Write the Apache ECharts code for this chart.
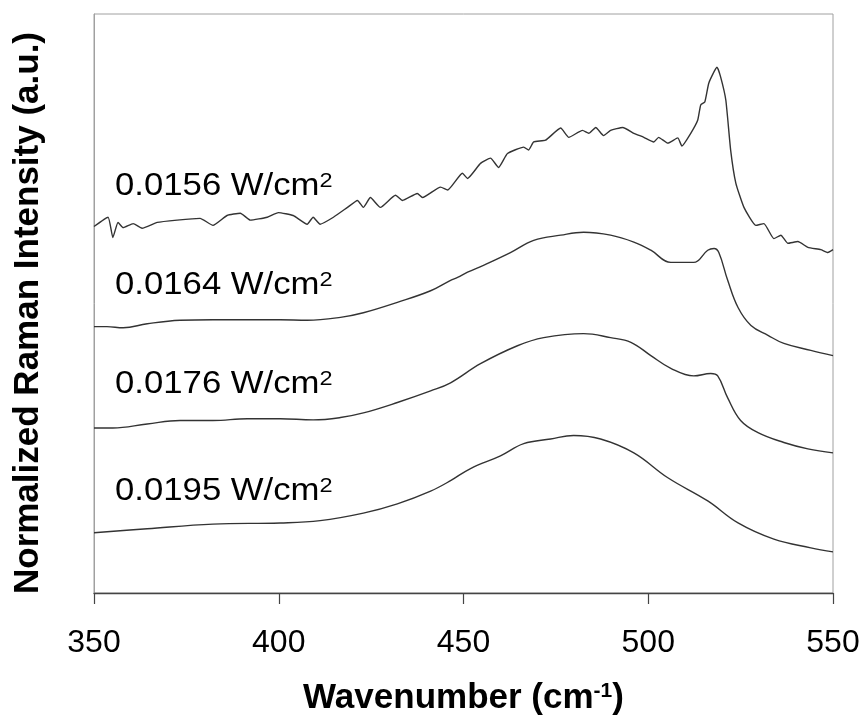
<!DOCTYPE html>
<html>
<head>
<meta charset="utf-8">
<script src="https://cdn.jsdelivr.net/npm/echarts@6/dist/echarts.min.js"></script>
<style>
html,body{margin:0;padding:0;background:#fff;}
#chart{width:865px;height:722px;}
</style>
</head>
<body>
<div id="chart"></div>
<script>
// Wavenumber (cm-1) and normalized intensity (a.u., vertically offset) for each spectrum
var wn1 = [350.0,353.8,355.1,356.5,357.9,360.6,363.0,367.1,372.5,378.7,382.2,386.0,389.6,392.3,396.9,399.9,403.9,407.7,409.3,411.2,414.8,418.6,421.3,422.9,424.8,427.5,431.6,433.5,437.5,438.9,443.8,445.7,449.7,451.1,454.6,457.3,459.5,461.9,466.3,467.6,469.0,472.2,476.3,478.5,482.2,483.9,485.8,487.9,489.8,493.1,496.1,498.8,501.5,502.8,505.3,508.0,509.1,511.5,513.4,514.2,515.3,516.4,518.6,519.6,521.0,522.3,523.7,525.9,529.1,531.3,534.0,535.9,537.8,540.5,543.2,546.7,548.6,550.0];
var int1 = [63.3,64.9,61.4,64.0,63.1,63.8,63.0,64.0,64.4,64.7,63.5,65.2,65.6,64.4,64.9,65.7,65.2,63.7,64.9,63.7,64.9,66.6,67.8,66.6,68.3,66.6,68.7,67.8,69.0,68.3,70.1,69.6,72.5,71.6,74.2,75.1,73.5,75.9,77.0,76.5,77.9,78.2,80.3,78.7,79.9,79.4,80.4,79.0,79.9,80.4,79.4,78.7,77.9,78.7,77.7,78.6,77.2,79.4,81.7,84.3,84.8,88.1,90.8,89.1,85.1,76.5,70.8,66.6,63.5,63.8,61.2,61.8,60.4,60.7,59.7,59.3,58.8,59.3];

var wn2 = [350.0,353.5,357.9,364.4,373.3,382.2,391.5,400.4,407.7,416.7,422.9,432.1,441.1,446.5,448.4,451.1,455.4,462.7,469.0,476.3,482.5,489.8,496.1,500.7,506.1,512.3,516.1,517.8,519.1,521.5,524.3,527.8,532.4,536.7,544.0,550.0];
var int2 = [46.0,46.0,45.8,46.5,47.1,47.2,47.2,47.2,47.1,47.6,48.4,50.2,52.2,54.0,54.5,55.4,56.6,58.8,60.9,61.8,62.3,61.8,60.6,59.2,57.1,57.1,59.2,59.5,58.8,54.0,49.3,46.2,44.5,43.1,41.9,41.0];

var wn3 = [350.0,355.1,364.4,373.3,382.2,391.5,400.4,409.3,416.7,422.9,432.1,441.1,446.5,454.6,464.6,471.7,482.5,489.8,495.3,500.7,506.1,512.3,516.9,518.8,521.5,525.0,529.7,536.7,543.2,550.0];
var int3 = [28.5,28.5,29.2,29.8,29.8,30.1,30.1,29.9,30.3,31.1,32.9,34.9,36.3,39.6,42.7,44.1,44.8,44.1,43.3,41.0,38.8,37.5,37.9,37.5,33.7,29.8,27.7,26.0,24.9,24.2];

var wn4 = [350.0,364.4,382.2,400.4,411.2,422.9,432.1,441.1,446.5,451.9,460.0,466.3,473.6,479.8,487.1,496.1,505.3,516.1,524.3,534.0,544.0,550.0];
var int4 = [10.4,11.1,11.9,12.1,12.5,13.8,15.4,17.6,19.4,21.5,23.7,25.8,26.6,27.2,26.6,24.2,19.9,15.9,12.1,9.3,7.8,7.1];

var seriesNames = ['0.0156', '0.0164', '0.0176', '0.0195'];
var xTicks = [350, 400, 450, 500, 550];
var xTitle = 'Wavenumber (cm{sup|-1})';
var yTitle = 'Normalized Raman Intensity (a.u.)';

function pairs(a, b) { return a.map(function (v, i) { return [v, b[i]]; }); }
var allData = [pairs(wn1, int1), pairs(wn2, int2), pairs(wn3, int3), pairs(wn4, int4)];
var smoothing = [0.15, 0.4, 0.4, 0.4];

var FONT = '"Liberation Sans", Arial, sans-serif';
var chart = echarts.init(document.getElementById('chart'));

var labelY = [187.5, 286.5, 386, 492.5];
var graphics = seriesNames.map(function (n, i) {
  return {
    type: 'text', left: 115, top: labelY[i] - 17, scaleX: 1.12,
    style: {
      text: n + ' W/cm{sup|2}',
      font: '31px ' + FONT, fill: '#000',
      rich: { sup: { fontSize: 21, verticalAlign: 'top', fontFamily: FONT, fill: '#000' } }
    }
  };
});
graphics.push({
  type: 'text', x: 28, y: 313, rotation: Math.PI / 2,
  style: { text: yTitle, font: 'bold 35px ' + FONT, fill: '#000', textAlign: 'center', textVerticalAlign: 'middle' }
});

chart.setOption({
  animation: false,
  backgroundColor: '#fff',
  grid: { left: 94, right: 32, top: 14, bottom: 129, show: true, borderColor: '#a0a0a0', borderWidth: 1 },
  xAxis: {
    type: 'value', min: xTicks[0], max: xTicks[xTicks.length - 1], interval: 50,
    axisLine: { show: true, lineStyle: { color: '#444', width: 1.3 } },
    axisTick: { show: true, length: 11, inside: false, lineStyle: { color: '#444', width: 1.2 } },
    splitLine: { show: false },
    axisLabel: { fontSize: 32, color: '#000', fontFamily: FONT, margin: 34 },
    name: xTitle, nameLocation: 'middle', nameGap: 88,
    nameTextStyle: { fontSize: 35, fontWeight: 'bold', color: '#000', fontFamily: FONT,
      rich: { sup: { fontSize: 21, fontWeight: 'bold', verticalAlign: 'top', fontFamily: FONT, color: '#000' } } }
  },
  yAxis: {
    type: 'value', min: 0, max: 100,
    axisLine: { show: true, lineStyle: { color: '#a0a0a0', width: 1 } },
    axisTick: { show: false }, axisLabel: { show: false }, splitLine: { show: false }
  },
  series: allData.map(function (d, i) {
    return { type: 'line', name: seriesNames[i], data: d, showSymbol: false, smooth: smoothing[i],
      lineStyle: { color: '#333', width: 1.4 } };
  }),
  graphic: graphics
});
</script>
</body>
</html>
